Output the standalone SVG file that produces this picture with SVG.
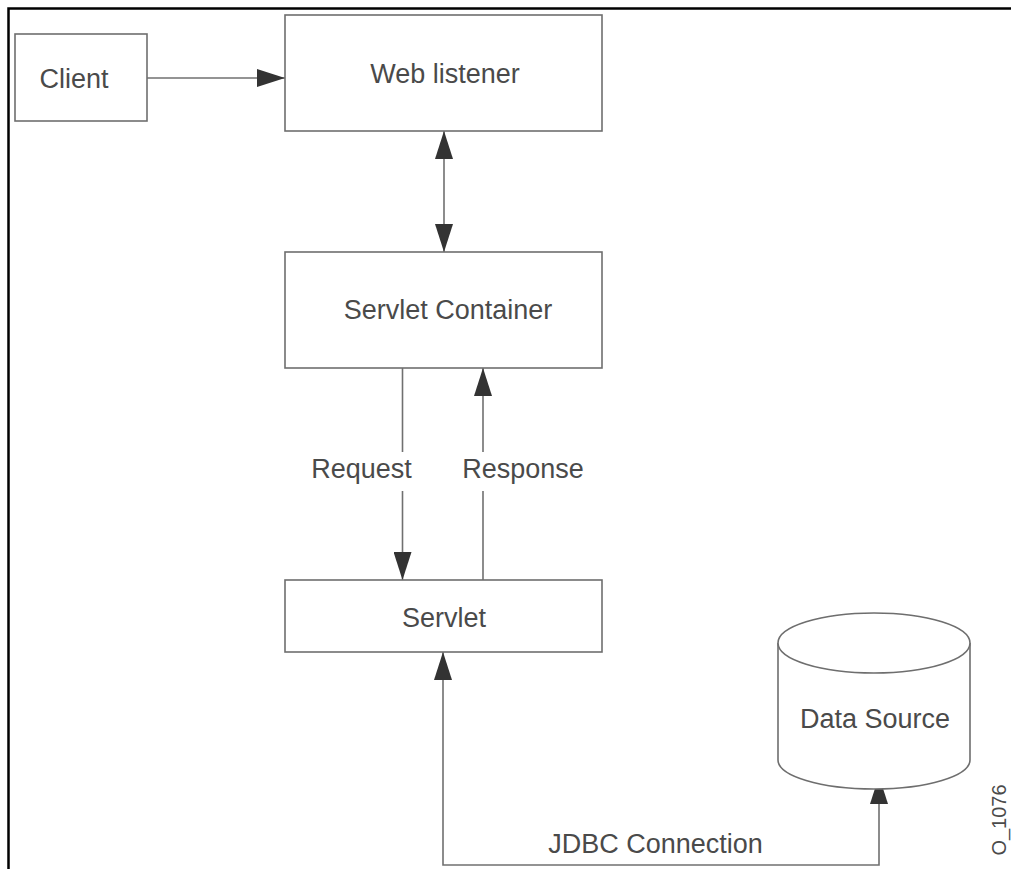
<svg xmlns="http://www.w3.org/2000/svg" width="1011" height="869" viewBox="0 0 1011 869">
  <style>
    .box { fill: #ffffff; stroke: #6e6e6e; stroke-width: 1.6; }
    .lbl { font-family: "Liberation Sans", Arial, sans-serif; font-size: 27px; fill: #4a4a4a; text-anchor: middle; }
    .con { fill: none; stroke: #707070; stroke-width: 1.6; }
  </style>
  <defs>
    <marker id="arr" markerUnits="userSpaceOnUse" markerWidth="28" markerHeight="18" refX="28" refY="9" orient="auto-start-reverse" viewBox="0 0 28 18">
      <path d="M0,0 L28,9 L0,18 z" fill="#333333"/>
    </marker>
  </defs>
  <rect width="1011" height="869" fill="#ffffff"/>
  <path d="M8.5,869 V8.5 H1011" fill="none" stroke="#000000" stroke-width="2.5"/>

  <g id="connectors">
    <line class="con" x1="147" y1="78" x2="285" y2="78" marker-end="url(#arr)"/>
    <line class="con" x1="444" y1="131" x2="444" y2="252" marker-start="url(#arr)" marker-end="url(#arr)"/>
    <line class="con" x1="402.5" y1="368" x2="402.5" y2="452"/>
    <line class="con" x1="402.5" y1="491" x2="402.5" y2="580" marker-end="url(#arr)"/>
    <line class="con" x1="483" y1="580" x2="483" y2="491"/>
    <line class="con" x1="483" y1="452" x2="483" y2="368" marker-end="url(#arr)"/>
    <polyline class="con" points="879,776 879,865 443,865 443,652" marker-start="url(#arr)" marker-end="url(#arr)"/>
    <text class="lbl" x="361.5" y="478">Request</text>
    <text class="lbl" x="523" y="478">Response</text>
    <text class="lbl" x="655.5" y="853">JDBC Connection</text>
  </g>

  <g id="client">
    <rect class="box" x="15" y="34" width="132" height="87"/>
    <text class="lbl" x="74" y="88">Client</text>
  </g>
  <g id="web-listener">
    <rect class="box" x="285" y="15" width="317" height="116"/>
    <text class="lbl" x="445" y="83">Web listener</text>
  </g>
  <g id="servlet-container">
    <rect class="box" x="285" y="252" width="317" height="116"/>
    <text class="lbl" x="448" y="319">Servlet Container</text>
  </g>
  <g id="servlet">
    <rect class="box" x="285" y="580" width="317" height="72"/>
    <text class="lbl" x="444" y="627">Servlet</text>
  </g>
  <g id="data-source">
    <path class="box" d="M778,643 V760 A96,29 0 0 0 970,760 V643"/>
    <ellipse class="box" cx="874" cy="643" rx="96" ry="30"/>
    <text class="lbl" x="875" y="728">Data Source</text>
  </g>
  <text x="1006" y="820" transform="rotate(-90 1006 820)" font-family="'Liberation Sans', Arial, sans-serif" font-size="20" fill="#4a4a4a" text-anchor="middle">O_1076</text>
</svg>
